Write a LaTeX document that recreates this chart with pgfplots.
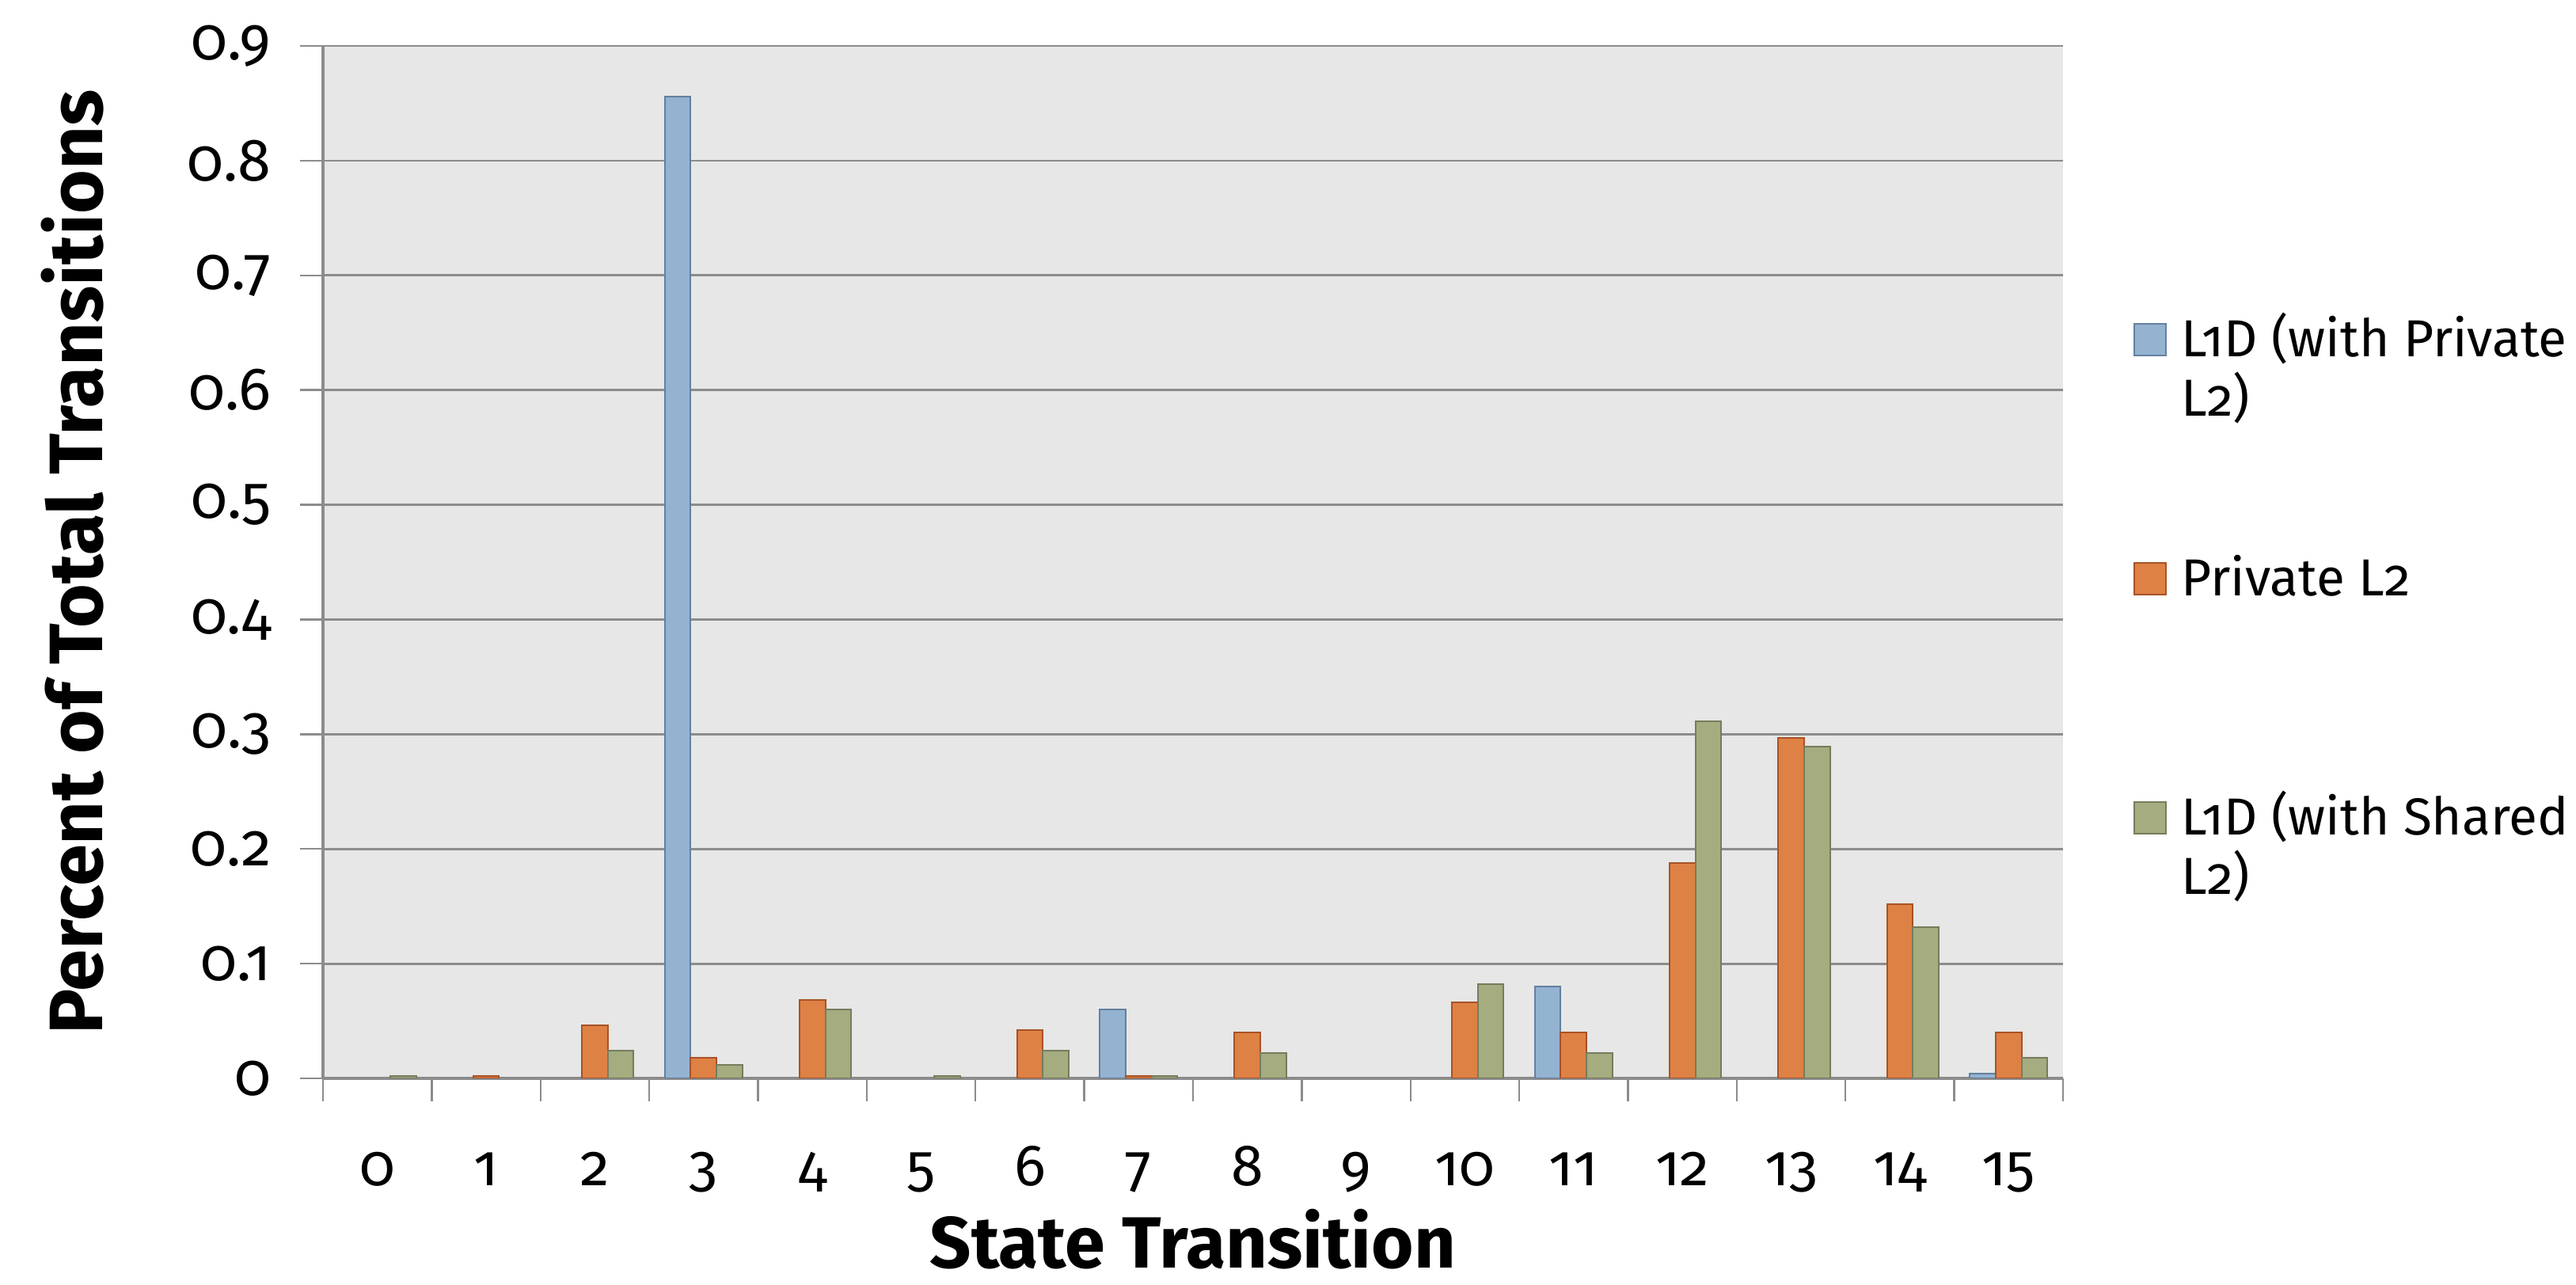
\documentclass[border=0pt]{standalone}
\usepackage{fontspec}
\setmainfont{Fira Sans}[Numbers=OldStyle]
\usepackage{pgfplots}
\pgfplotsset{compat=1.18}
\definecolor{cBlue}{RGB}{147,179,209}
\definecolor{cBlueE}{RGB}{100,128,158}
\definecolor{cOrange}{RGB}{222,129,69}
\definecolor{cOrangeE}{RGB}{168,82,38}
\definecolor{cGreen}{RGB}{164,172,128}
\definecolor{cGreenE}{RGB}{118,124,92}
\definecolor{bgGray}{RGB}{230,231,230}
\definecolor{gridGray}{RGB}{140,140,140}
\newcommand{\twol}[2]{\begin{tabular}[t]{@{}l@{}}#1\\#2\end{tabular}}
\begin{document}
\begin{tikzpicture}
\useasboundingbox (-102bp,-65.25bp) rectangle (711.5bp,340.5bp);
\begin{axis}[
  at={(0,0)}, anchor=south west,
  scale only axis, width=549.5bp, height=326bp,
  xmin=-0.5, xmax=15.5, ymin=0, ymax=0.9,
  ybar=0pt, bar width=0.238,
  axis background/.style={fill=bgGray},
  axis x line*=bottom, axis y line*=left,
  axis line style={-, draw=gridGray, line width=0.8bp},
  xtick={0,1,2,3,4,5,6,7,8,9,10,11,12,13,14,15},
  xticklabels={0,1,2,3,4,5,6,7,8,9,10,11,12,13,14,15},
  major x tick style={draw=none},
  minor xtick={-0.5,0.5,1.5,2.5,3.5,4.5,5.5,6.5,7.5,8.5,9.5,10.5,11.5,12.5,13.5,14.5,15.5},
  minor x tick style={draw=gridGray, line width=0.6bp},
  minor tick length=7.3bp, major tick length=7.3bp, tick align=outside,
  ytick={0,0.1,0.2,0.3,0.4,0.5,0.6,0.7,0.8,0.9},
  yticklabels={0,0.1,0.2,0.3,0.4,0.5,0.6,0.7,0.8,0.9},
  y tick style={draw=gridGray, line width=0.6bp},
  ymajorgrids, major grid style={draw=gridGray, line width=0.7bp},
  xticklabel style={font=\fontsize{18.5}{22}\selectfont, anchor=base, yshift=-26.5bp},
  yticklabel style={font=\fontsize{19}{22}\selectfont, anchor=east, xshift=-5.5bp},
  xlabel={State Transition},
  ylabel={Percent of Total Transitions},
  every axis x label/.style={at={(axis description cs:0.5,-0.1835)}, anchor=base, inner sep=0pt, font=\bfseries\fontsize{23}{28}\selectfont},
  every axis y label/.style={at={(axis description cs:-0.1438,0.5)}, anchor=center, rotate=90, font=\bfseries\fontsize{24}{28}\selectfont},
  legend image code/.code={\draw[#1, line width=0.5bp] (0bp,9.5bp) rectangle (10bp,19.5bp);},
  legend cell align=left,
  legend style={draw=none, fill=none, at={(axis description cs:0,0)}, anchor=north west,
    xshift=571.5bp, yshift=240bp, inner sep=0pt, row sep=33.5bp, column sep=4.7bp,
    nodes={inner sep=0pt, text height=12bp, text depth=30bp, font=\fontsize{16.5}{15.6}\selectfont}},
]
\addplot[fill=cBlue, draw=cBlueE, line width=0.5bp] coordinates {(3,0.856) (7,0.060) (11,0.080) (15,0.004)};
\addplot[fill=cOrange, draw=cOrangeE, line width=0.5bp] coordinates {(1,0.002) (2,0.046) (3,0.018) (4,0.068) (6,0.042) (7,0.002) (8,0.040) (10,0.066) (11,0.040) (12,0.188) (13,0.297) (14,0.152) (15,0.040)};
\addplot[fill=cGreen, draw=cGreenE, line width=0.5bp] coordinates {(0,0.002) (2,0.024) (3,0.012) (4,0.060) (5,0.002) (6,0.024) (7,0.002) (8,0.022) (10,0.082) (11,0.022) (12,0.311) (13,0.289) (14,0.132) (15,0.018)};
\legend{{\twol{L1D (with Private}{L2)}}, Private L2, {\twol{L1D (with Shared}{L2)}}}
\end{axis}
\end{tikzpicture}
\end{document}
